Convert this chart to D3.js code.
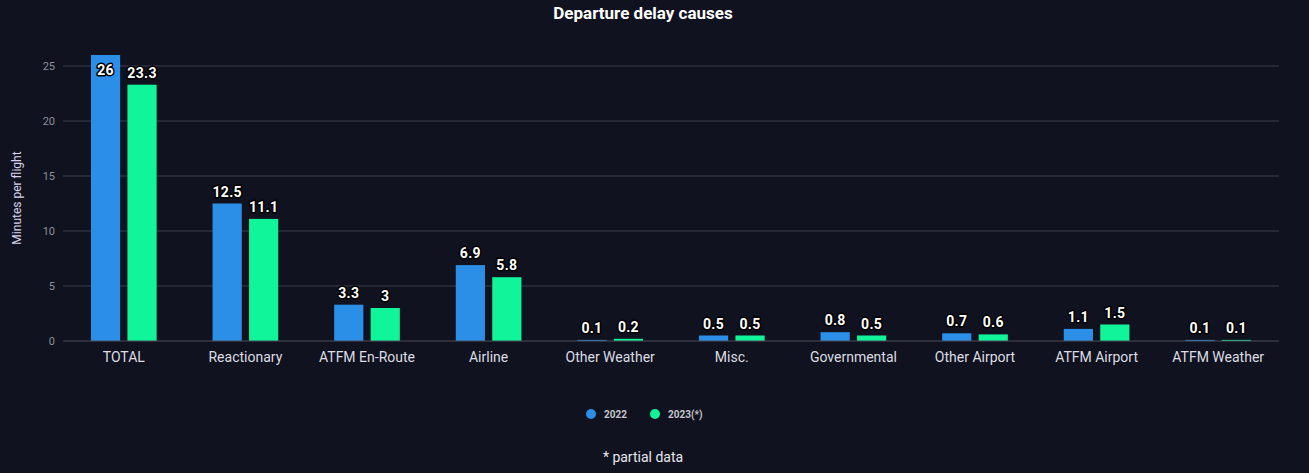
<!DOCTYPE html>
<html>
<head>
<meta charset="utf-8">
<script src="https://cdn.jsdelivr.net/npm/d3@7"></script>
<style>
  html, body { margin: 0; padding: 0; background: #10121f; }
  svg { display: block; font-family: Roboto, "Noto Sans", sans-serif; }
</style>
</head>
<body>
<div id="chart"></div>
<script>
const categories = ["TOTAL", "Reactionary", "ATFM En-Route", "Airline", "Other Weather",
    "Misc.", "Governmental", "Other Airport", "ATFM Airport", "ATFM Weather"];
const values2022 = [26, 12.5, 3.3, 6.9, 0.1, 0.5, 0.8, 0.7, 1.1, 0.1];
const values2023 = [23.3, 11.1, 3, 5.8, 0.2, 0.5, 0.5, 0.6, 1.5, 0.1];
const seriesNames = ["2022", "2023(*)"];
const yTicks = [0, 5, 10, 15, 20, 25];

const colors = ["#2b8fe8", "#10f59a"];
const width = 1309, height = 473;
const margin = { top: 55, right: 30, bottom: 132, left: 63 };
const plotW = 1216, plotH = height - margin.top - margin.bottom;

const svg = d3.select("#chart")
    .append("svg")
    .attr("width", width)
    .attr("height", height);

svg.append("rect").attr("width", width).attr("height", height).attr("fill", "#10121f");

const cx = 643; // chart centre (title, legend, footnote)

svg.append("text")
    .attr("x", cx).attr("y", 19)
    .attr("text-anchor", "middle")
    .attr("fill", "#ffffff")
    .attr("font-size", 17).attr("font-weight", 700)
    .text("Departure delay causes");

const g = svg.append("g")
    .attr("transform", `translate(${margin.left},${margin.top})`);

const x = d3.scaleBand()
    .domain(categories)
    .range([0, plotW])
    .paddingInner(0)
    .paddingOuter(0);

const x1 = d3.scaleBand()
    .domain(seriesNames)
    .range([x.bandwidth() * 0.2, x.bandwidth() * 0.8])
    .paddingInner(0.2)
    .paddingOuter(0.1);

const y = d3.scaleLinear()
    .domain([0, 26])
    .range([plotH, 0]);

// grid
g.append("g")
    .selectAll("line")
    .data(yTicks.slice(1))
    .join("line")
    .attr("x1", 0).attr("x2", plotW)
    .attr("y1", d => y(d)).attr("y2", d => y(d))
    .attr("stroke", "#3c3e4e").attr("stroke-width", 1);

// y axis labels
const yAxis = g.append("g")
    .call(d3.axisLeft(y).tickValues(yTicks).tickSize(0).tickPadding(8));
yAxis.select(".domain").remove();
yAxis.selectAll("text")
    .attr("fill", "#8d8e9c")
    .attr("font-size", 11)
    .attr("font-family", "Roboto, sans-serif");

svg.append("text")
    .attr("transform", `translate(21,${margin.top + plotH / 2}) rotate(-90)`)
    .attr("text-anchor", "middle")
    .attr("fill", "#d9d3ea")
    .attr("font-size", 12)
    .text("Minutes per flight");

// bars
const rows = categories.map((c, i) => ({ cat: c, vals: [values2022[i], values2023[i]] }));

const groups = g.selectAll(".grp")
    .data(rows)
    .join("g")
    .attr("class", "grp")
    .attr("transform", d => `translate(${x(d.cat)},0)`);

groups.selectAll("rect")
    .data(d => d.vals.map((v, k) => ({ s: seriesNames[k], v, k })))
    .join("rect")
    .attr("x", d => x1(d.s))
    .attr("width", x1.bandwidth())
    .attr("y", d => y(d.v))
    .attr("height", d => plotH - y(d.v))
    .attr("fill", d => colors[d.k]);

groups.selectAll("text.lbl")
    .data(d => d.vals.map((v, k) => ({ s: seriesNames[k], v, k })))
    .join("text")
    .attr("class", "lbl")
    .attr("x", d => x1(d.s) + x1.bandwidth() / 2)
    .attr("y", d => Math.max(y(d.v) - 7, 20))
    .attr("text-anchor", "middle")
    .attr("fill", "#ffffff")
    .attr("stroke", "#000000")
    .attr("stroke-width", 3)
    .attr("stroke-linejoin", "round")
    .attr("paint-order", "stroke")
    .attr("font-size", 14)
    .attr("font-weight", 700)
    .attr("letter-spacing", 0.3)
    .text(d => d3.format("~g")(d.v));

// x axis
g.append("line")
    .attr("x1", 0).attr("x2", plotW)
    .attr("y1", plotH).attr("y2", plotH)
    .attr("stroke", "#4a4c5a");

const xAxis = g.append("g")
    .attr("transform", `translate(0,${plotH})`)
    .call(d3.axisBottom(x).tickSize(0).tickPadding(11));
xAxis.select(".domain").remove();
xAxis.selectAll("text")
    .attr("fill", "#dcdce2")
    .attr("font-size", 14)
    .attr("font-family", "Roboto, sans-serif");

// legend
const legend = svg.append("g").attr("transform", "translate(591,414)");
const legendX = [0, 64];
seriesNames.forEach((s, k) => {
    legend.append("circle")
        .attr("cx", legendX[k]).attr("cy", 0).attr("r", 5)
        .attr("fill", colors[k]);
    legend.append("text")
        .attr("x", legendX[k] + 13).attr("y", 4)
        .attr("fill", "#c4c4cc")
        .attr("font-size", 10).attr("font-weight", 700)
        .text(s);
});

svg.append("text")
    .attr("x", cx).attr("y", 462)
    .attr("text-anchor", "middle")
    .attr("fill", "#e8e8ee")
    .attr("font-size", 14)
    .text("* partial data");
</script>
</body>
</html>
